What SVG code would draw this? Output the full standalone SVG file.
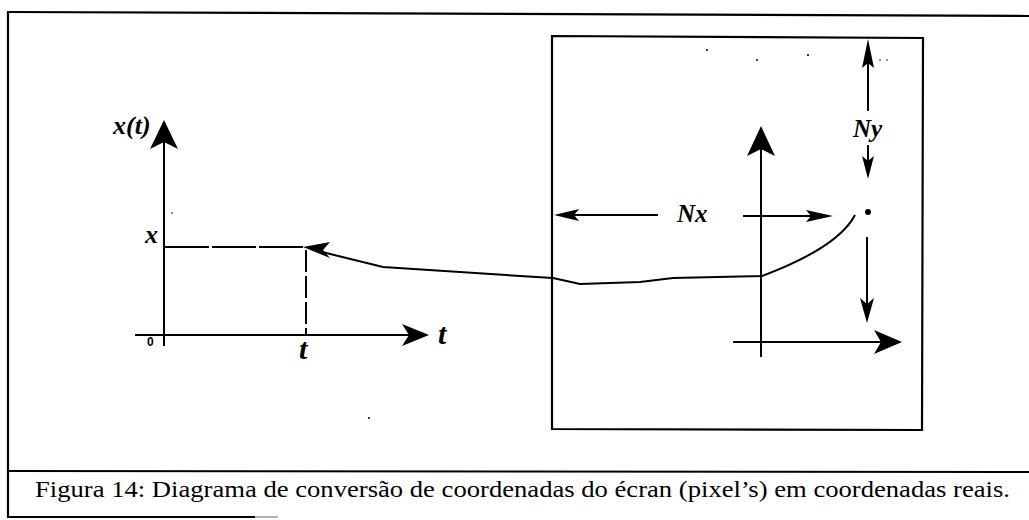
<svg xmlns="http://www.w3.org/2000/svg" width="1029" height="520" viewBox="0 0 1029 520">
<style>
.ln{stroke:#000;fill:none;stroke-width:2}
.frame{stroke:#000;fill:none;stroke-width:2.2}
.ah{fill:#000;stroke:none}
.lbl{font-style:italic;font-weight:bold;fill:#000}
.cap{font-size:23px;fill:#000}
.speck{fill:#000}
</style>
<rect width="1029" height="520" fill="#fff"/>
<g id="frame">
<line class="frame" x1="8" y1="12" x2="1029" y2="16"/>
<line class="frame" x1="8" y1="11" x2="8" y2="518"/>
<line class="frame" x1="8" y1="471" x2="1029" y2="472"/>
<line class="frame" x1="8" y1="517" x2="255" y2="517"/>
<line x1="255" y1="517" x2="278" y2="517" stroke="#999" stroke-width="1.5"/>
</g>
<g id="screen">
<path class="frame" d="M552 36 L923 38 L922 430 L552 429 Z" stroke-width="2.5"/>
</g>
<g id="left-axes" font-family="Liberation Serif, serif">
<line class="ln" x1="164" y1="140" x2="164" y2="346"/>
<path class="ah" d="M164 120 L178 149 L164 142 L150 149 Z"/>
<line class="ln" x1="135" y1="335" x2="415" y2="335"/>
<path class="ah" d="M429 335 L402 346 L409 335 L402 324 Z"/>
<text class="lbl" x="113" y="134" font-size="26">x(t)</text>
<text class="lbl" x="145" y="243" font-size="26">x</text>
<text x="147" y="346" font-family="Liberation Sans, sans-serif" font-weight="bold" font-size="12">0</text>
<text class="lbl" x="438" y="344" font-size="30">t</text>
<text class="lbl" x="299" y="359" font-size="30">t</text>
</g>
<g id="right-axes">
<line class="ln" x1="761" y1="145" x2="761" y2="357"/>
<path class="ah" d="M761 126 L775 156 L761 149 L747 156 Z"/>
<line class="ln" x1="733" y1="342" x2="885" y2="342"/>
<path class="ah" d="M902 342 L874 354 L881 342 L874 330 Z"/>
</g>
<g id="dimensions" font-family="Liberation Serif, serif">
<line class="ln" x1="868" y1="55" x2="868" y2="111"/>
<path class="ah" d="M868 39 L874 68 L868 63 L862 68 Z"/>
<line class="ln" x1="868" y1="145" x2="868" y2="165"/>
<path class="ah" d="M868 179 L862 156 L868 161 L874 156 Z"/>
<text class="lbl" x="853" y="137" font-size="25">Ny</text>
<circle cx="868" cy="212" r="3"/>
<line class="ln" x1="867" y1="237" x2="867" y2="308"/>
<path class="ah" d="M867 323 L860 298 L867 304 L874 298 Z"/>
<line class="ln" x1="570" y1="215" x2="658" y2="215"/>
<path class="ah" d="M554 215 L579 209 L574 215 L579 221 Z"/>
<text class="lbl" x="677" y="222" font-size="25">Nx</text>
<line class="ln" x1="743" y1="216" x2="818" y2="216"/>
<path class="ah" d="M833 216 L806 210 L811 216 L806 222 Z"/>
</g>
<g id="connectors">
<path class="ln" d="M855 215 C 843 238, 810 258, 762 276 L 673 278 L 640 282 L 580 284 L 553 278 L 520 276 L 383 267 L 318 251"/>
<path class="ah" d="M303 247 L330 242 L323 250 L330 258 Z"/>
<line class="ln" x1="165" y1="247" x2="303" y2="247" stroke-dasharray="44 3"/>
<line class="ln" x1="306" y1="250" x2="306" y2="336" stroke-dasharray="22 4"/>
</g>
<g id="specks">
<circle class="speck" cx="707" cy="50" r="1"/>
<circle class="speck" cx="757" cy="60" r="1"/>
<circle class="speck" cx="808" cy="55" r="1"/>
<circle class="speck" cx="880" cy="60" r="0.8"/>
<circle class="speck" cx="887" cy="60" r="0.8"/>
<circle class="speck" cx="172" cy="213" r="0.8"/>
<circle class="speck" cx="369" cy="418" r="1"/>
</g>
<g id="caption" font-family="Liberation Serif, serif">
<text class="cap" x="35" y="497" textLength="975" lengthAdjust="spacingAndGlyphs">Figura 14: Diagrama de conversão de coordenadas do écran (pixel’s) em coordenadas reais.</text>
</g>
</svg>
